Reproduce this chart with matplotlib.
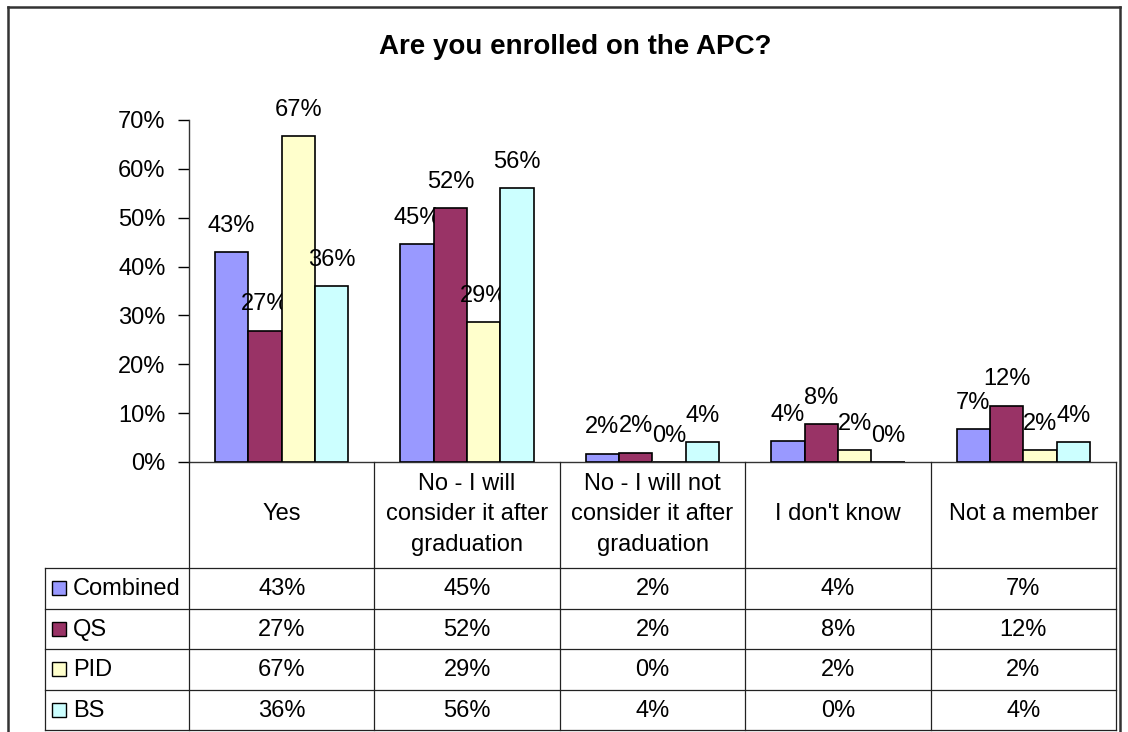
import matplotlib
matplotlib.use("Agg")
import matplotlib.pyplot as plt
import numpy as np
from matplotlib.lines import Line2D
from matplotlib.patches import Rectangle
from matplotlib.ticker import PercentFormatter

plt.rcParams["font.family"] = ["Liberation Sans", "DejaVu Sans"]

# data (shares, %)
categories = ["Yes", "No - I will\nconsider it after\ngraduation",
              "No - I will not\nconsider it after\ngraduation",
              "I don't know", "Not a member"]
series = ["Combined", "QS", "PID", "BS"]
combined = [42.9, 44.6, 1.7, 4.2, 6.7]
qs = [26.9, 51.9, 1.9, 7.7, 11.5]
pid = [66.7, 28.6, 0.0, 2.4, 2.4]
bs = [36.0, 56.0, 4.0, 0.0, 4.0]
colors = ["#9999FF", "#993366", "#FFFFCC", "#CCFFFF"]

W, H = 1128, 732
FS = 17
fig = plt.figure(figsize=(W / 100, H / 100), dpi=100)


def px(x0, y0, x1, y1):
    # pixel box (top-left origin) -> figure fraction rect
    return [x0 / W, 1 - y1 / H, (x1 - x0) / W, (y1 - y0) / H]


# chart area
ax = fig.add_axes(px(189, 120, 1116, 462))
values = [combined, qs, pid, bs]
n = len(categories)
x = np.arange(n)
bw = 0.18
for i, (vals, col) in enumerate(zip(values, colors)):
    pos = x + (i - 1.5) * bw
    ax.bar(pos, vals, width=bw, color=col, edgecolor="black", linewidth=1.2, zorder=3)
    for xp, v in zip(pos, vals):
        ax.annotate(f"{v:.0f}%", (xp, v), xytext=(0, 19), textcoords="offset points",
                    ha="center", va="center", fontsize=FS, clip_on=False)

ax.set_xlim(-0.5, n - 0.5)
ax.set_ylim(0, 70)
ax.set_yticks(np.arange(0, 71, 10))
ax.yaxis.set_major_formatter(PercentFormatter(decimals=0))
ax.tick_params(axis="y", labelsize=FS, length=8, width=1, pad=9, direction="out")
ax.set_xticks([])
for s in ["top", "right"]:
    ax.spines[s].set_visible(False)
for s in ["left", "bottom"]:
    ax.spines[s].set_color("#333333")
    ax.spines[s].set_linewidth(1)

fig.text(575 / W, 1 - 47 / H, "Are you enrolled on the APC?", ha="center", va="center",
         fontsize=20, fontweight="bold")

# data table under the chart
leg_w = 144 / 185.4
tab = fig.add_axes(px(45, 462, 1116, 730))
tab.set_xlim(-0.5 - leg_w, n - 0.5)
tab.set_ylim(268, 0)
tab.axis("off")
hdr = 106
row_h = (268 - hdr) / len(series)
lc, lw = "#222222", 0.9
# vertical lines for category columns
for b in np.arange(n + 1) - 0.5:
    tab.plot([b, b], [0, 268], color=lc, lw=lw, clip_on=False)
# horizontal row lines
for r in range(len(series) + 1):
    y = hdr + r * row_h
    tab.plot([-0.5 - leg_w, n - 0.5], [y, y], color=lc, lw=lw, clip_on=False)
tab.plot([-0.5 - leg_w] * 2, [hdr, 268], color=lc, lw=lw, clip_on=False)

for j, cat in enumerate(categories):
    tab.text(j, hdr / 2 - 1, cat, ha="center", va="center", fontsize=FS, linespacing=1.5)

for r, (name, vals, col) in enumerate(zip(series, values, colors)):
    yc = hdr + (r + 0.5) * row_h
    x0 = -0.5 - leg_w
    tab.add_patch(Rectangle((x0 + 7 / 185.4, yc - 7), 14 / 185.4, 14, facecolor=col,
                            edgecolor="black", lw=1, clip_on=False))
    tab.text(x0 + 28 / 185.4, yc + 1, name, ha="left", va="center", fontsize=FS)
    for j, v in enumerate(vals):
        tab.text(j, yc + 1, f"{v:.0f}%", ha="center", va="center", fontsize=FS)

# outer chart border (bottom edge is cut off)
bx0, bx1, by = 8 / W, 1120 / W, 1 - 7 / H
for xs, ys in [([bx0, bx0], [0, by]), ([bx0, bx1], [by, by]), ([bx1, bx1], [by, 0])]:
    fig.add_artist(Line2D(xs, ys, transform=fig.transFigure, color="#333333", lw=1.8))

fig.savefig("out.png", dpi=100)
